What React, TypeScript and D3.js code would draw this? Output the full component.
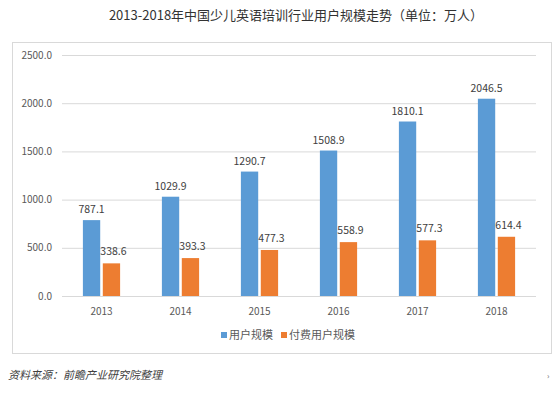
import { useRef, useEffect } from "react";
import * as d3 from "d3";

const years = ["2013", "2014", "2015", "2016", "2017", "2018"];
const users = [787.1, 1029.9, 1290.7, 1508.9, 1810.1, 2046.5];
const paidUsers = [338.6, 393.3, 477.3, 558.9, 577.3, 614.4];
const seriesNames = ["用户规模", "付费用户规模"];
const colors = ["#5B9BD5", "#ED7D31"];
const yTicks = [0, 500, 1000, 1500, 2000, 2500];

const W = 554;
const H = 393;
const FONT = "'Noto Sans CJK SC', 'Noto Sans', sans-serif";

export default function App() {
  const svgRef = useRef<SVGSVGElement>(null);

  useEffect(() => {
    const svg = d3.select(svgRef.current);
    svg.selectAll("*").remove();

    // Outer frame
    svg
      .append("rect")
      .attr("x", 12.5)
      .attr("y", 42.5)
      .attr("width", 539)
      .attr("height", 311)
      .attr("fill", "#fff")
      .attr("stroke", "#d9d9d9");

    // Title
    svg
      .append("text")
      .attr("x", 296)
      .attr("y", 20)
      .attr("text-anchor", "middle")
      .attr("font-size", 13)
      .attr("fill", "#333")
      .text("2013-2018年中国少儿英语培训行业用户规模走势（单位：万人）");

    const x = d3.scaleBand().domain(years).range([62, 536]);
    const y = d3.scaleLinear().domain([0, 2500]).range([296, 55]);
    const inner = d3
      .scaleBand()
      .domain(["0", "1"])
      .range([0, x.bandwidth()])
      .paddingInner(0.13)
      .paddingOuter(1.05);

    // Gridlines and y labels
    const grid = svg.append("g");
    grid
      .selectAll("line")
      .data(yTicks)
      .join("line")
      .attr("x1", 62)
      .attr("x2", 536)
      .attr("y1", (d) => y(d) + 0.5)
      .attr("y2", (d) => y(d) + 0.5)
      .attr("stroke", "#d9d9d9");
    grid
      .selectAll("text")
      .data(yTicks)
      .join("text")
      .attr("x", 52)
      .attr("y", (d) => y(d) + 3.5)
      .attr("text-anchor", "end")
      .attr("font-size", 10)
      .attr("fill", "#595959")
      .text((d) => d.toFixed(1));

    // Bars
    const series = [users, paidUsers];
    series.forEach((vals, si) => {
      const g = svg.append("g");
      g.selectAll("rect")
        .data(vals)
        .join("rect")
        .attr("x", (_, i) => (x(years[i]) as number) + (inner(String(si)) as number))
        .attr("y", (d) => y(d))
        .attr("width", inner.bandwidth())
        .attr("height", (d) => y(0) - y(d))
        .attr("fill", colors[si]);
      g.selectAll("text")
        .data(vals)
        .join("text")
        .attr(
          "x",
          (_, i) =>
            (x(years[i]) as number) +
            (inner(String(si)) as number) +
            inner.bandwidth() / 2 +
            (si === 1 ? 2 : 0)
        )
        .attr("y", (d) => y(d) - (si === 0 ? 7 : 8))
        .attr("text-anchor", "middle")
        .attr("font-size", 10.5)
        .attr("fill", "#404040")
        .text((d) => d.toFixed(1));
    });

    // X labels
    svg
      .append("g")
      .selectAll("text")
      .data(years)
      .join("text")
      .attr("x", (d) => (x(d) as number) + x.bandwidth() / 2)
      .attr("y", 315)
      .attr("text-anchor", "middle")
      .attr("font-size", 10)
      .attr("fill", "#595959")
      .text((d) => d);

    // Legend
    const legendX = [221, 281];
    const legend = svg.append("g");
    seriesNames.forEach((name, i) => {
      legend
        .append("rect")
        .attr("x", legendX[i])
        .attr("y", 332)
        .attr("width", 6)
        .attr("height", 6)
        .attr("fill", colors[i]);
      legend
        .append("text")
        .attr("x", legendX[i] + 8)
        .attr("y", 339)
        .attr("font-size", 11)
        .attr("fill", "#595959")
        .text(name);
    });

    // Source note
    svg
      .append("text")
      .attr("x", 8)
      .attr("y", 379)
      .attr("font-size", 11)
      .attr("font-style", "italic")
      .attr("fill", "#404040")
      .text("资料来源：前瞻产业研究院整理");
    svg
      .append("text")
      .attr("x", 547)
      .attr("y", 379)
      .attr("font-size", 8)
      .attr("fill", "#666")
      .text("›");
  }, []);

  return (
    <svg
      ref={svgRef}
      width={W}
      height={H}
      style={{ position: "absolute", left: 0, top: 0, background: "#fff", fontFamily: FONT }}
    />
  );
}
